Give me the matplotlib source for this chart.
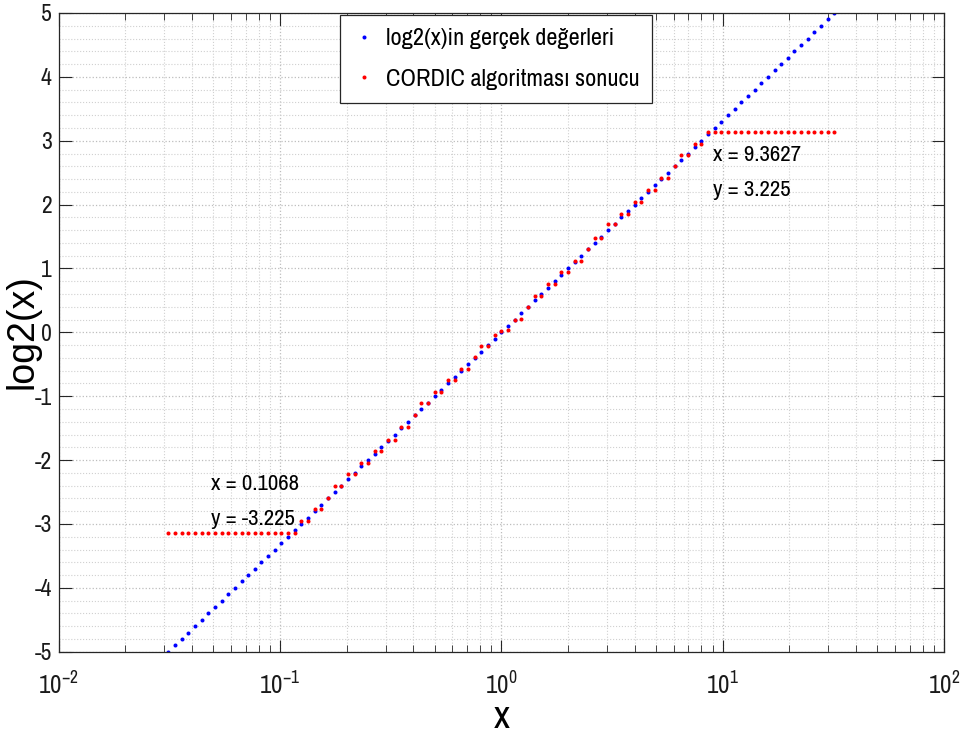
import numpy as np
import matplotlib
matplotlib.use("Agg")
from matplotlib import pyplot as plt
from matplotlib.ticker import LogLocator, MultipleLocator, FixedLocator, FuncFormatter

plt.rcParams['font.family'] = ['Archivo Narrow', 'DejaVu Sans']
plt.rcParams['mathtext.fontset'] = 'custom'
plt.rcParams['mathtext.rm'] = 'Archivo Narrow'
plt.rcParams['mathtext.it'] = 'Archivo Narrow'
plt.rcParams['axes.unicode_minus'] = False

# log2 of the input points (blue series = true log2 values)
log2_true = [
    -5.0, -4.9, -4.8, -4.7, -4.6, -4.5, -4.4, -4.3, -4.2, -4.1,
    -4.0, -3.9, -3.8, -3.7, -3.6, -3.5, -3.4, -3.3, -3.2, -3.1,
    -3.0, -2.9, -2.8, -2.7, -2.6, -2.5, -2.4, -2.3, -2.2, -2.1,
    -2.0, -1.9, -1.8, -1.7, -1.6, -1.5, -1.4, -1.3, -1.2, -1.1,
    -1.0, -0.9, -0.8, -0.7, -0.6, -0.5, -0.4, -0.3, -0.2, -0.1,
    0.0, 0.1, 0.2, 0.3, 0.4, 0.5, 0.6, 0.7, 0.8, 0.9,
    1.0, 1.1, 1.2, 1.3, 1.4, 1.5, 1.6, 1.7, 1.8, 1.9,
    2.0, 2.1, 2.2, 2.3, 2.4, 2.5, 2.6, 2.7, 2.8, 2.9,
    3.0, 3.1, 3.2, 3.3, 3.4, 3.5, 3.6, 3.7, 3.8, 3.9,
    4.0, 4.1, 4.2, 4.3, 4.4, 4.5, 4.6, 4.7, 4.8, 4.9,
    5.0,
]

# CORDIC output (saturates near +-3.14)
cordic = [
    -3.14, -3.14, -3.14, -3.14, -3.14, -3.14, -3.14, -3.14, -3.14, -3.14,
    -3.14, -3.14, -3.14, -3.14, -3.14, -3.14, -3.14, -3.14, -3.14, -3.14,
    -2.96, -2.96, -2.77, -2.77, -2.60, -2.41, -2.41, -2.22, -2.22, -2.04,
    -2.04, -1.86, -1.86, -1.69, -1.69, -1.48, -1.48, -1.30, -1.11, -1.11,
    -0.93, -0.93, -0.75, -0.75, -0.57, -0.57, -0.39, -0.22, -0.22, -0.04,
    0.02, 0.03, 0.20, 0.21, 0.39, 0.57, 0.57, 0.76, 0.75, 0.94,
    0.94, 1.12, 1.12, 1.30, 1.48, 1.48, 1.69, 1.69, 1.86, 1.86,
    2.04, 2.04, 2.23, 2.23, 2.41, 2.41, 2.60, 2.77, 2.77, 2.95,
    2.95, 3.14, 3.14, 3.14, 3.14, 3.14, 3.14, 3.14, 3.14, 3.14,
    3.14, 3.14, 3.14, 3.14, 3.14, 3.14, 3.14, 3.14, 3.14, 3.14,
    3.14,
]

x_vals = 2.0 ** np.array(log2_true)

legend_labels = ["log2(x)in gerçek değerleri", "CORDIC algoritması sonucu"]
tip_low = ["x = 0.1068", "y = -3.225"]
tip_high = ["x = 9.3627", "y = 3.225"]

axcol = "#262626"
fig = plt.figure(figsize=(9.67, 7.42), dpi=100)
ax = fig.add_axes([0.0607, 0.1217, 0.9155, 0.8608])

ax.plot(x_vals, log2_true, "o", color=(0, 0, 1), ms=2.9, mew=0, label=legend_labels[0])
ax.plot(x_vals, cordic, "o", color=(1, 0, 0), ms=2.9, mew=0, label=legend_labels[1])

ax.set_xscale("log")
ax.set_xlim(1e-2, 1e2)
ax.set_ylim(-5, 5)

ax.xaxis.set_major_locator(FixedLocator([1e-2, 1e-1, 1e0, 1e1, 1e2]))
ax.xaxis.set_minor_locator(LogLocator(base=10, subs=np.arange(2, 10), numticks=20))
ax.xaxis.set_major_formatter(FuncFormatter(lambda v, p: r"$10^{%d}$" % round(np.log10(v))))
ax.yaxis.set_major_locator(MultipleLocator(1))
ax.yaxis.set_minor_locator(MultipleLocator(0.2))

ax.grid(True, which="major", linestyle=":", color="#bdbdbd", linewidth=0.9)
ax.grid(True, which="minor", linestyle=":", color="#d0d0d0", linewidth=0.8)
ax.set_axisbelow(True)

ax.tick_params(which="both", direction="in", top=True, right=True, colors=axcol, labelcolor="#1a1a1a")
ax.tick_params(which="major", length=9, width=0.8, labelsize=17)
ax.tick_params(axis="x", which="major", pad=14, labelsize=18)
ax.tick_params(axis="y", which="major", pad=5)
ax.tick_params(axis="x", which="minor", length=5, width=0.6)
ax.tick_params(axis="y", which="minor", length=0)
for s in ax.spines.values():
    s.set_color(axcol)
    s.set_linewidth(0.9)

ax.set_xlabel("x", fontsize=28)
ax.xaxis.set_label_coords(0.5, -0.076)
ax.set_ylabel("log2(x)", fontsize=27, family="Liberation Sans")
ax.yaxis.set_label_coords(-0.021, 0.502)

ax.text(0.0488, -2.37, tip_low[0], fontsize=16.5, va="center", ha="left")
ax.text(0.0488, -2.92, tip_low[1], fontsize=16.5, va="center", ha="left")
ax.text(9.05, 2.78, tip_high[0], fontsize=16.5, va="center", ha="left")
ax.text(9.05, 2.23, tip_high[1], fontsize=16.5, va="center", ha="left")

leg = ax.legend(loc="upper center", bbox_to_anchor=(0.494, 0.997), borderaxespad=0,
                fontsize=17.5, frameon=True, fancybox=False, framealpha=1,
                markerscale=1.0, handlelength=0.88, handletextpad=0.46, labelspacing=0.8,
                borderpad=0.55)
leg.get_frame().set_edgecolor(axcol)
leg.get_frame().set_linewidth(0.9)

fig.savefig("out.png", dpi=100)
